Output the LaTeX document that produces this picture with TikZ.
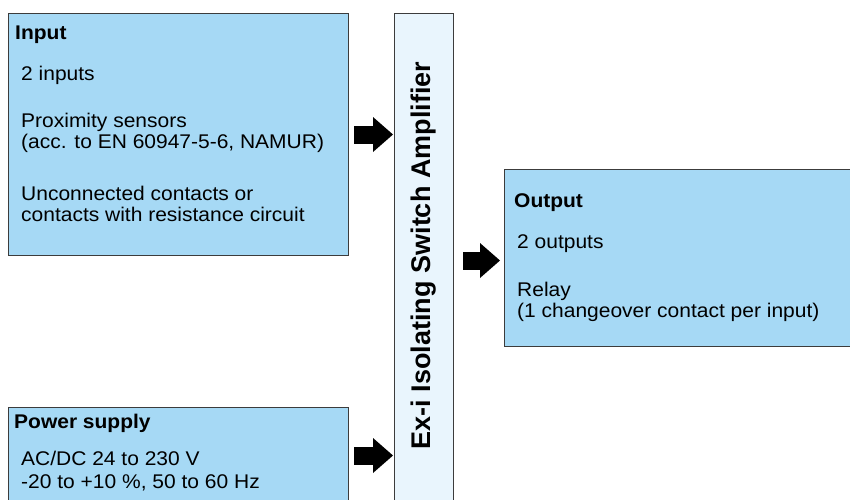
\documentclass[tikz,border=0pt]{standalone}
\usepackage{fontspec}
\setmainfont[FakeStretch=1.06]{Liberation Sans}
\newfontfamily\ampfont{Liberation Sans}
\usetikzlibrary{arrows.meta}
\definecolor{boxblue}{RGB}{166,217,245}
\definecolor{ampblue}{RGB}{233,245,253}
\definecolor{edge}{RGB}{60,60,60}
\tikzset{blockbox/.style = {rectangle, draw = edge, line width = 1pt, fill = boxblue, anchor = north west, inner sep = 0pt}}
\tikzset{head/.style = {font = \bfseries\fontsize{19.8}{20.5}\selectfont, anchor = base west, inner sep = 0pt}}
\tikzset{body/.style = {font = \fontsize{19.8}{20.5}\selectfont, anchor = base west, inner sep = 0pt, align = left}}
\tikzset{fat/.style = {line width = 18pt, -{Triangle[length = 20pt, width = 35pt, line width = 0pt]}}}

\begin{document}
\begin{tikzpicture}[x = 1pt, y = -1pt]
    \useasboundingbox (0,0) rectangle (850,499);
    \node[blockbox, minimum width = 340pt, minimum height = 242pt] (In) at (8,13) {};
    \node[blockbox, minimum width = 59pt, minimum height = 505pt, fill = ampblue] (Amp) at (394,13) {};
    \node[blockbox, minimum width = 366pt, minimum height = 177pt] (Out) at (504,169) {};
    \node[blockbox, minimum width = 340pt, minimum height = 96pt] (Pwr) at (8,407) {};
    \node[head] (InT) at (15,39) {Input};
    \node[body] (InA) at (21,80) {2 inputs};
    \node[body] (InB) at (21,148) {Proximity sensors\\(acc. to EN 60947-5-6, NAMUR)};
    \node[body] (InC) at (21,221) {Unconnected contacts or\\contacts with resistance circuit};
    \node[head] (OutT) at (514,207) {Output};
    \node[body] (OutA) at (517,248) {2 outputs};
    \node[body] (OutB) at (517,317) {Relay\\(1 changeover contact per input)};
    \node[head] (PwrT) at (14,428) {Power supply};
    \node[body, font = \fontsize{19.8}{23}\selectfont] (PwrA) at (21,488) {AC/DC 24 to 230 V\\-20 to +10 \%, 50 to 60 Hz};
    \node[rotate = 90, inner sep = 0pt, font = \ampfont\bfseries\fontsize{27}{30}\selectfont] (AmpT) at (424,255.5) {Ex-i Isolating Switch Amplifier};
    \draw[fat, shorten > = 1pt] ([xshift = 5pt]In.east) -- (In.east -| Amp.west);
    \draw[fat, shorten > = 4pt] ([xshift = 9pt, yshift = -2.5pt]Amp.east |- Out.west) -- ([yshift = -2.5pt]Out.west);
    \draw[fat, shorten > = 1pt] ([xshift = 5pt]Pwr.east) -- (Pwr.east -| Amp.west);
\end{tikzpicture}
\end{document}
